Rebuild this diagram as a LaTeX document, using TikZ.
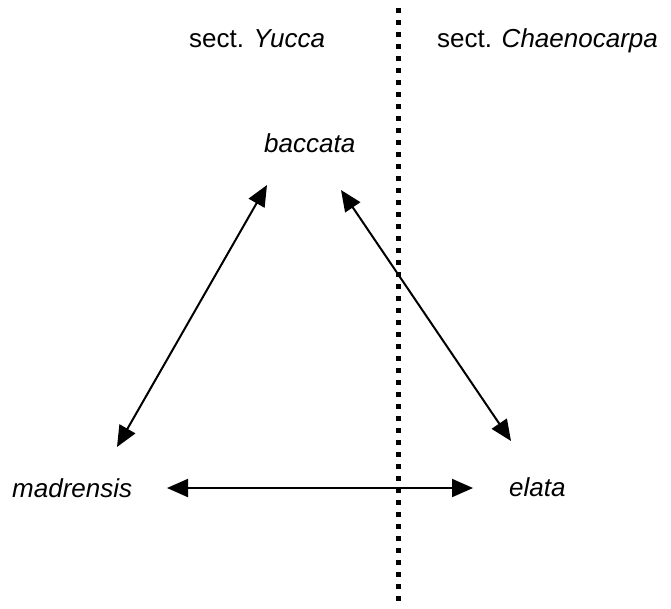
\documentclass[tikz,border=0pt]{standalone}
\usepackage{fontspec}
\setmainfont{Liberation Sans}
\usetikzlibrary{arrows.meta}
\begin{document}
\begin{tikzpicture}[x=1pt,y=-1pt,
  lbl/.style={anchor=base west,inner sep=0pt,font=\fontsize{26}{31}\selectfont},
  link/.style={line width=2pt,{Triangle[length=21pt,width=18pt]}-{Triangle[length=21pt,width=18pt]}},
  divider/.style={line width=5pt,dash pattern=on 5pt off 7pt}]
\useasboundingbox (0,0) rectangle (671,608);
\node[lbl] (secY) at (189,47) {sect. \textit{Yucca}};
\node[lbl] (secC) at (437,47) {sect. \textit{Chaenocarpa}};
\node[lbl] (baccata) at (264,152) {\textit{baccata}};
\node[lbl] (madrensis) at (12,497) {\textit{madrensis}};
\node[lbl] (elata) at (509,496) {\textit{elata}};
\coordinate (dtop) at (398,8);
\coordinate (dbot) at (398,606);
\draw[divider] (dtop) -- (dbot);
\coordinate (bL) at (267,185);
\coordinate (bR) at (341,190);
\coordinate (mT) at (117,447);
\coordinate (mR) at (167,488);
\coordinate (eT) at (511,441);
\coordinate (eL) at (473,488);
\draw[link] (bL) -- (mT);
\draw[link] (bR) -- (eT);
\draw[link] (mR) -- (eL);
\end{tikzpicture}
\end{document}
